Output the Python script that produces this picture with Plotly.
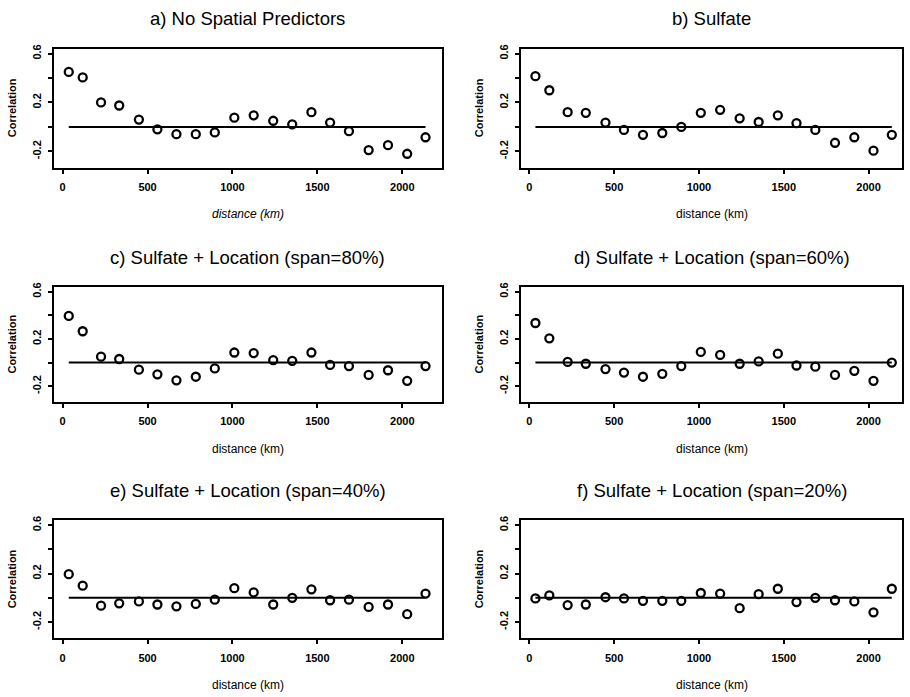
import plotly.graph_objects as go
from plotly.subplots import make_subplots

# Lag distances (km) shared by every panel
distance_km = [36, 118, 226, 333, 449, 558, 670, 784, 896, 1011,
               1125, 1240, 1352, 1465, 1575, 1686, 1802, 1916, 2029, 2137]

# Residual correlation at each lag, one list per model
corr_no_spatial = [0.45, 0.405, 0.20, 0.175, 0.06, -0.02, -0.06, -0.06, -0.045, 0.075,
                   0.095, 0.05, 0.02, 0.12, 0.035, -0.035, -0.19, -0.15, -0.22, -0.085]
corr_sulfate = [0.415, 0.30, 0.12, 0.115, 0.035, -0.025, -0.065, -0.05, 0.0, 0.115,
                0.14, 0.07, 0.04, 0.095, 0.03, -0.025, -0.13, -0.085, -0.195, -0.065]
corr_span80 = [0.395, 0.265, 0.05, 0.03, -0.06, -0.10, -0.15, -0.12, -0.05, 0.085,
               0.08, 0.02, 0.015, 0.085, -0.02, -0.03, -0.105, -0.065, -0.155, -0.03]
corr_span60 = [0.335, 0.205, 0.005, -0.01, -0.055, -0.085, -0.12, -0.095, -0.03, 0.09,
               0.065, -0.01, 0.01, 0.075, -0.025, -0.035, -0.105, -0.07, -0.155, 0.0]
corr_span40 = [0.195, 0.10, -0.065, -0.045, -0.03, -0.055, -0.07, -0.05, -0.015, 0.08,
               0.045, -0.055, 0.0, 0.07, -0.02, -0.015, -0.075, -0.055, -0.135, 0.035]
corr_span20 = [-0.005, 0.02, -0.06, -0.055, 0.005, -0.005, -0.025, -0.025, -0.025, 0.04,
               0.035, -0.085, 0.03, 0.075, -0.035, 0.0, -0.02, -0.03, -0.12, 0.075]

panel_titles = ["a) No Spatial Predictors", "b) Sulfate",
                "c) Sulfate + Location (span=80%)", "d) Sulfate + Location (span=60%)",
                "e) Sulfate + Location (span=40%)", "f) Sulfate + Location (span=20%)"]
panel_series = [corr_no_spatial, corr_sulfate, corr_span80,
                corr_span60, corr_span40, corr_span20]

x_ticks = [0, 500, 1000, 1500, 2000]
y_ticks = [-0.2, 0.0, 0.2, 0.4, 0.6]
y_tick_text = ["-0.2", "", "0.2", "", "0.6"]

W, H = 910, 697
FONT = "Liberation Sans, Arial, Helvetica, sans-serif"

# plot-box pixel geometry
col_px = [(54, 442), (521, 902)]
row_px = [(44, 164), (284, 400), (519, 638)]
x_ranges = [[-51, 2234], [-49, 2197]]
y_range = [-0.335, 0.64]

fig = make_subplots(rows=3, cols=2)

for i, (title, vals) in enumerate(zip(panel_titles, panel_series)):
    r, c = divmod(i, 2)
    # zero reference line across the lag range
    fig.add_trace(go.Scatter(x=[distance_km[0], distance_km[-1]], y=[0, 0], mode="lines",
                             line=dict(color="black", width=2), showlegend=False,
                             hoverinfo="skip"), row=r + 1, col=c + 1)
    fig.add_trace(go.Scatter(x=distance_km, y=vals, mode="markers",
                             marker=dict(symbol="circle-open", size=8, color="black",
                                         line=dict(width=2.3, color="black")),
                             showlegend=False), row=r + 1, col=c + 1)

    x0, x1 = col_px[c]
    y0, y1 = row_px[r]
    idx = "" if i == 0 else str(i + 1)
    fig.layout["xaxis" + idx].update(
        domain=[x0 / W, x1 / W], range=x_ranges[c], tickvals=x_ticks,
        ticks="outside", ticklen=4, tickwidth=1.5, tickcolor="black",
        showline=True, linewidth=2, linecolor="black", mirror=True,
        showgrid=False, zeroline=False, ticklabelstandoff=4,
        tickfont=dict(family=FONT, size=11, color="black", weight=700))
    fig.layout["yaxis" + idx].update(
        domain=[1 - y1 / H, 1 - y0 / H], range=y_range, tickvals=y_ticks,
        ticktext=y_tick_text, tickangle=-90,
        ticks="outside", ticklen=4, tickwidth=1.5, tickcolor="black",
        showline=True, linewidth=2, linecolor="black", mirror=True,
        showgrid=False, zeroline=False, ticklabelstandoff=3,
        tickfont=dict(family=FONT, size=11, color="black", weight=700))

    cx = (x0 + x1) / 2
    # panel title
    fig.add_annotation(text=title, xref="paper", yref="paper",
                       x=cx / W, y=1 - (y0 - 30) / H, xanchor="center", yanchor="middle",
                       showarrow=False, font=dict(family=FONT, size=18.5, color="black"))
    # x-axis title
    fig.add_annotation(text="distance (km)", xref="paper", yref="paper",
                       x=cx / W, y=1 - (y1 + 47) / H, xanchor="center", yanchor="middle",
                       showarrow=False,
                       font=dict(family=FONT, size=12, color="black",
                                 style="italic" if i == 0 else "normal"))
    # y-axis title
    fig.add_annotation(text="Correlation", xref="paper", yref="paper",
                       x=(x0 - 42) / W, y=1 - ((y0 + y1) / 2) / H,
                       xanchor="center", yanchor="middle", textangle=-90,
                       showarrow=False,
                       font=dict(family=FONT, size=11, color="black", weight=700))

fig.update_layout(width=W, height=H, margin=dict(l=0, r=0, t=0, b=0),
                  paper_bgcolor="white", plot_bgcolor="white",
                  font=dict(family=FONT, color="black"))

fig.write_html("out.html")
